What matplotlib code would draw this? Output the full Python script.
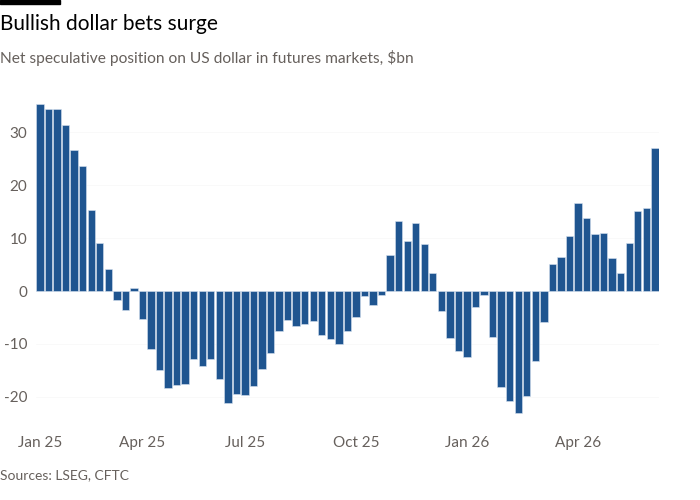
import matplotlib
matplotlib.use('Agg')
import matplotlib.pyplot as plt
import numpy as np

# DATA #################################################################################################################

net_position = [
    35.3, 34.4, 34.5, 31.4, 26.7, 23.6, 15.4, 9.0, 4.2, -1.7,
    -3.5, 0.6, -5.2, -11.0, -14.9, -18.4, -17.8, -17.5, -12.9, -14.2,
    -12.8, -16.7, -21.1, -19.5, -19.7, -18.0, -14.8, -11.8, -7.6, -5.4,
    -6.7, -6.2, -5.7, -8.3, -9.1, -10.0, -7.6, -4.9, -0.9, -2.6,
    -0.7, 6.9, 13.2, 9.5, 12.8, 8.9, 3.5, -3.7, -8.9, -11.4,
    -12.4, -3.0, -0.7, -8.6, -18.1, -20.7, -23.0, -19.8, -13.3, -5.8,
    5.2, 6.5, 10.4, 16.7, 13.9, 10.7, 11.0, 6.2, 3.5, 9.1,
    15.1, 15.7, 27.1,
]
month_ticks = [0, 12, 24, 37, 50, 63]
month_labels = ['Jan 25', 'Apr 25', 'Jul 25', 'Oct 25', 'Jan 26', 'Apr 26']
y_ticks = [-20, -10, 0, 10, 20, 30]

########################################################################################################################

BAR_COLOUR = '#1f5590'
TEXT_GREY = '#66605c'

plt.rcParams['font.family'] = ['Lato', 'DejaVu Sans']

fig = plt.figure(figsize=(7, 5), dpi=100)
fig.patch.set_facecolor('white')

ax = fig.add_axes([0.051, 0.164, 0.8906, 0.6454])
x = np.arange(len(net_position))
ax.bar(x, net_position, width=0.86, color=BAR_COLOUR, edgecolor='#d6e2f0', linewidth=0.4, zorder=3)

ax.set_xlim(-0.5, len(net_position) - 0.5)
ax.set_ylim(-24, 37)
ax.set_yticks(y_ticks)
ax.set_yticklabels([str(v) for v in y_ticks])
ax.set_xticks(month_ticks)
ax.set_xticklabels(month_labels)
ax.tick_params(axis='both', length=0, labelsize=11, labelcolor=TEXT_GREY)
ax.tick_params(axis='x', pad=13)
ax.tick_params(axis='y', pad=6)
ax.grid(axis='y', color='#f9f9f9', linewidth=0.6, zorder=0)
for spine in ax.spines.values():
    spine.set_visible(False)

# header and footer
fig.add_artist(plt.Rectangle((0, 1 - 4 / 500), 60 / 700, 4 / 500, color='black', transform=fig.transFigure))
fig.text(0.0, 1 - 30 / 500, 'Bullish dollar bets surge', fontsize=15, color='black', va='baseline', ha='left')
fig.text(0.0, 1 - 63 / 500, 'Net speculative position on US dollar in futures markets, $bn', fontsize=11.2,
         color=TEXT_GREY, va='baseline', ha='left')
fig.text(0.0, 1 - 479 / 500, 'Sources: LSEG, CFTC', fontsize=10, color=TEXT_GREY, va='baseline', ha='left')

fig.savefig('out.png', dpi=100, facecolor='white')
